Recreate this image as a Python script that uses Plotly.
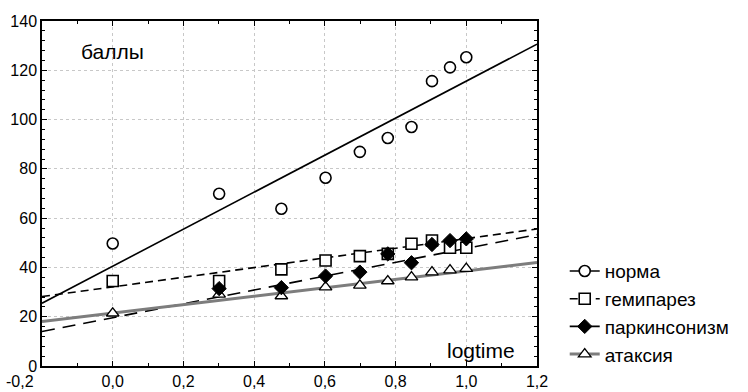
import plotly.graph_objects as go

# ---- data ----
logtime = [0.0, 0.301, 0.477, 0.602, 0.699, 0.778, 0.845, 0.903, 0.954, 1.0]
norma = [49.7, 69.9, 63.8, 76.4, 86.9, 92.5, 97.0, 115.6, 121.2, 125.3]
gemiparez = [34.5, 34.5, 39.2, 42.8, 44.6, 45.5, 49.6, 50.9, 48.0, 48.0]
parkinsonizm = [None, 31.4, 31.8, 36.5, 38.1, 45.5, 41.9, 49.3, 50.9, 51.6]
ataksia = [21.4, 29.1, 28.4, 32.0, 32.7, 34.5, 36.1, 38.1, 38.9, 39.5]

series_names = ["норма", "гемипарез", "паркинсонизм", "атаксия"]
# regression lines as drawn in the reference (intercept, slope)
fit_intercept = [40.5, 32.1, 19.6, 21.5]
fit_slope = [75.1, 19.6, 28.1, 17.1]

x_range = [-0.2, 1.2]
y_range = [0, 140]
x_tickvals = [-0.2, 0.0, 0.2, 0.4, 0.6, 0.8, 1.0, 1.2]
x_ticktext = ["-0,2" + "\u00a0" * 10, "0,0", "0,2", "0,4", "0,6", "0,8", "1,0", "1,2"]
y_tickvals = [0, 20, 40, 60, 80, 100, 120, 140]

# ---- styles ----
FONT = "Liberation Sans, Arial, sans-serif"
line_styles = [
    dict(color="black", width=1.6, dash="solid"),
    dict(color="black", width=1.6, dash="8px,5px"),
    dict(color="black", width=1.6, dash="13px,8px"),
    dict(color="#7d7d7d", width=3, dash="solid"),
]
marker_styles = [
    dict(symbol="circle", size=11, color="white", line=dict(color="black", width=1.6)),
    dict(symbol="square", size=11, color="white", line=dict(color="black", width=1.6)),
    dict(symbol="diamond", size=11, color="black", line=dict(color="black", width=1)),
    dict(symbol="triangle-up", size=11, color="white", line=dict(color="black", width=1.3)),
]
values = [norma, gemiparez, parkinsonizm, ataksia]

fig = go.Figure()

# regression lines
for i in range(4):
    ys = [fit_intercept[i] + fit_slope[i] * xv for xv in x_range]
    fig.add_trace(go.Scatter(x=x_range, y=ys, mode="lines", line=line_styles[i],
                             showlegend=False, hoverinfo="skip"))

# markers (diamonds drawn last)
for i in [0, 1, 3, 2]:
    fig.add_trace(go.Scatter(x=logtime, y=values[i], mode="markers",
                             marker=marker_styles[i], showlegend=False))

# legend entries
for i in range(4):
    fig.add_trace(go.Scatter(x=[None], y=[None], mode="lines+markers",
                             name=series_names[i], line=line_styles[i],
                             marker=marker_styles[i], legendgroup=str(i)))

fig.add_annotation(x=0.0, y=127.5, text="баллы", showarrow=False,
                   font=dict(family=FONT, size=21, color="black"))
fig.add_annotation(x=1.143, y=1.0, text="logtime", showarrow=False,
                   xanchor="right", yanchor="bottom",
                   font=dict(family=FONT, size=21, color="black"))

axis_common = dict(
    showline=True, linecolor="black", linewidth=1.5, mirror="ticks",
    ticks="inside", ticklen=5, tickwidth=1.2, tickcolor="black",
    showgrid=True, gridcolor="#c8c8c8", griddash="dot", gridwidth=1,
    zeroline=False, automargin=False,
    tickfont=dict(family=FONT, size=16, color="black"),
)

fig.update_xaxes(range=x_range, tickvals=x_tickvals, ticktext=x_ticktext,
                 minor=dict(dtick=0.1, tick0=0, ticks="inside", ticklen=3,
                            tickcolor="black", showgrid=False),
                 **axis_common)
fig.update_yaxes(range=y_range, tickvals=y_tickvals,
                 minor=dict(dtick=4, tick0=0, ticks="inside", ticklen=3,
                            tickcolor="black", showgrid=False),
                 **axis_common)

fig.update_layout(
    width=748, height=392,
    margin=dict(l=42, r=211, t=21, b=26, autoexpand=False),
    paper_bgcolor="white", plot_bgcolor="white",
    font=dict(family=FONT, color="black"),
    legend=dict(x=1.056, y=0.33, xanchor="left", yanchor="top",
                font=dict(family=FONT, size=19, color="black"),
                tracegroupgap=0, bgcolor="rgba(0,0,0,0)"),
)

fig.write_html("out.html", config={"displayModeBar": False},
               post_script="document.body.style.margin='0';document.body.style.overflow='hidden';")
